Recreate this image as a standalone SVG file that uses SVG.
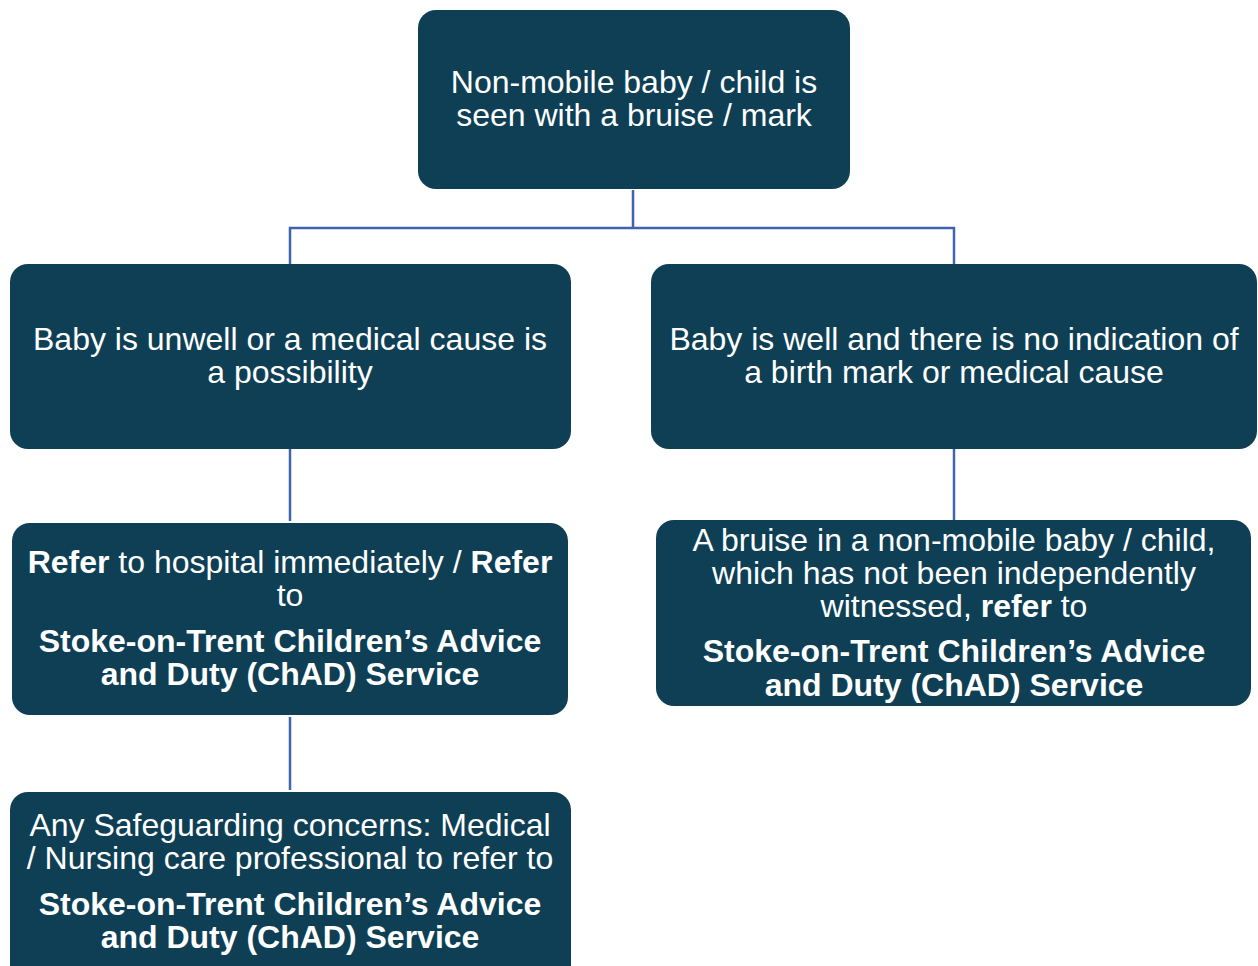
<svg xmlns="http://www.w3.org/2000/svg" width="1258" height="966" viewBox="0 0 1258 966">
<style>
.box{fill:#0e3f55}
.t{font-family:"Liberation Sans",Arial,sans-serif;font-size:32px;fill:#ffffff;text-anchor:middle}
.b{font-weight:bold}
.c{stroke:#3f63ad;stroke-width:2.5;fill:none}
</style>
<rect width="1258" height="966" fill="#ffffff"/>
<g id="connectors">
<path class="c" d="M633,190 V228 M290,264 V228 H954 V264"/>
<path class="c" d="M290,449 V521"/>
<path class="c" d="M954,449 V520"/>
<path class="c" d="M290,717 V790"/>
</g>
<g id="n1">
<rect class="box" x="418" y="10" width="432" height="179" rx="18"/>
<text class="t" x="634" y="93">Non-mobile baby / child is</text>
<text class="t" x="634" y="126">seen with a bruise / mark</text>
</g>
<g id="n2">
<rect class="box" x="10" y="264" width="561" height="185" rx="18"/>
<text class="t" x="290" y="350">Baby is unwell or a medical cause is</text>
<text class="t" x="290" y="383">a possibility</text>
</g>
<g id="n3">
<rect class="box" x="651" y="264" width="606" height="185" rx="18"/>
<text class="t" x="954" y="350">Baby is well and there is no indication of</text>
<text class="t" x="954" y="383">a birth mark or medical cause</text>
</g>
<g id="n4">
<rect class="box" x="12" y="523" width="556" height="192" rx="18"/>
<text class="t" x="290" y="573"><tspan class="b">Refer</tspan> to hospital immediately / <tspan class="b">Refer</tspan></text>
<text class="t" x="290" y="606">to</text>
<text class="t b" x="290" y="652">Stoke-on-Trent Children’s Advice</text>
<text class="t b" x="290" y="685">and Duty (ChAD) Service</text>
</g>
<g id="n5">
<rect class="box" x="656" y="520" width="595" height="186" rx="18"/>
<text class="t" x="954" y="551">A bruise in a non-mobile baby / child,</text>
<text class="t" x="954" y="584">which has not been independently</text>
<text class="t" x="954" y="617">witnessed, <tspan class="b">refer</tspan> to</text>
<text class="t b" x="954" y="662">Stoke-on-Trent Children’s Advice</text>
<text class="t b" x="954" y="696">and Duty (ChAD) Service</text>
</g>
<g id="n6">
<rect class="box" x="10" y="792" width="561" height="200" rx="18"/>
<text class="t" x="290" y="836">Any Safeguarding concerns: Medical</text>
<text class="t" x="290" y="869">/ Nursing care professional to refer to</text>
<text class="t b" x="290" y="915">Stoke-on-Trent Children’s Advice</text>
<text class="t b" x="290" y="948">and Duty (ChAD) Service</text>
</g>
</svg>
